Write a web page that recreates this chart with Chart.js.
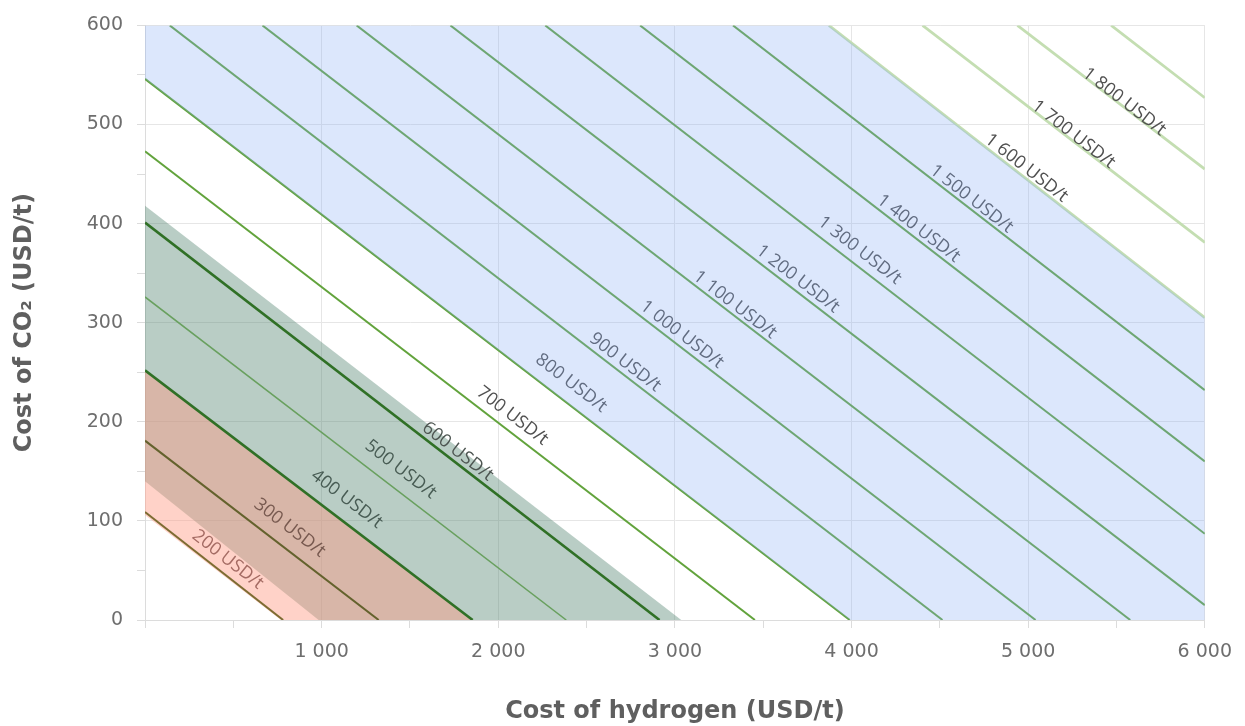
<!DOCTYPE html>
<html>
<head>
<meta charset="utf-8">
<script src="https://cdn.jsdelivr.net/npm/chart.js@4.4.1/dist/chart.umd.min.js"></script>
<style>
  html, body { margin: 0; padding: 0; background: #fff; }
  #wrap { width: 1245px; height: 726px; }
</style>
</head>
<body>
<div id="wrap"><canvas id="costChart"></canvas></div>
<script>
// product cost along each iso-line (USD/t); the last one carries no label
const costLevels = [200, 300, 400, 500, 600, 700, 800, 900, 1000, 1100, 1200, 1300, 1400, 1500, 1600, 1700, 1800, 1900];

// where each iso-line enters and leaves the plot, as [hydrogen, CO2]
const lineStart = [
  [0, 109], [0, 181], [0, 252], [0, 326], [0, 401], [0, 473], [0, 546],
  [140, 600], [665, 600], [1198, 600], [1729, 600], [2266, 600], [2803, 600],
  [3329, 600], [3872, 600], [4402, 600], [4939, 600], [5470, 600]
];
const lineEnd = [
  [782, 0], [1323, 0], [1855, 0], [2385, 0], [2913, 0], [3453, 0], [3990, 0],
  [4515, 0], [5042, 0], [5578, 0], [6000, 15], [6000, 87], [6000, 160],
  [6000, 232], [6000, 305], [6000, 381], [6000, 455], [6000, 527]
];

// shaded zones, corners as [hydrogen, CO2]
const pinkZone = [[0, 106], [0, 252], [1855, 0], [770, 0]];
const greenZone = [[0, 140], [0, 418], [3036, 0], [983, 0]];
const blueZone = [[0, 546], [0, 600], [3872, 600], [6000, 305], [6000, 0], [3990, 0]];

// ---- styling ----
const fmt = v => String(v).replace(/\B(?=(\d{3})+(?!\d))/g, ' ');
const toPts = arr => arr.map(p => ({x: p[0], y: p[1]}));

function lineColor(level) {
  if (level === 200) return 'rgb(125,108,50)';
  if (level === 300) return 'rgb(100,98,45)';
  if (level === 400 || level === 600) return 'rgb(48,112,38)';
  if (level === 500) return 'rgb(105,160,95)';
  if (level >= 1600) return 'rgb(196,222,178)';
  return 'rgb(98,163,60)';
}
function lineWidth(level) {
  if (level === 400 || level === 600) return 2.6;
  if (level === 500) return 1.5;
  if (level >= 1600) return 2.8;
  return 2;
}
function labelColor(level) {
  if (level === 200) return 'rgb(165,108,100)';
  if (level === 300) return 'rgb(120,90,80)';
  if (level === 400 || level === 500) return 'rgb(72,92,84)';
  if (level === 600) return 'rgb(78,86,82)';
  return 'rgb(80,80,80)';
}

// label centres along the lines, [hydrogen, CO2]
const labelSpots = [
  [469, 61], [819, 93], [1142, 122], [1447, 152], [1771, 170], [2080, 206],
  [2413, 239], [2718, 260], [3040, 288], [3340, 318], [3696, 344], [4046, 373],
  [4380, 395], [4679, 425], [4990, 456], [5256, 490], [5544, 523]
];

const zoneSets = [
  {label: 'blue', data: toPts(blueZone), fill: 'shape', backgroundColor: 'rgba(140,175,245,0.3)',
   borderWidth: 0, pointRadius: 0, order: 0},
  {label: 'pink', data: toPts(pinkZone), fill: 'shape', backgroundColor: 'rgba(255,155,133,0.45)',
   borderWidth: 0, pointRadius: 0, order: 20},
  {label: 'green', data: toPts(greenZone), fill: 'shape', backgroundColor: 'rgba(80,130,110,0.4)',
   borderWidth: 0, pointRadius: 0, order: 30}
];
const firstLine = zoneSets.length;
const lineSets = costLevels.map((lvl, i) => ({
  label: lvl + ' USD/t',
  data: toPts([lineStart[i], lineEnd[i]]),
  borderColor: lineColor(lvl),
  borderWidth: lineWidth(lvl),
  pointRadius: 0,
  fill: false,
  order: 10
}));

const isoLabels = {
  id: 'isoLabels',
  afterDatasetDraw(chart, args) {
    if (args.index !== firstLine) return;
    const {ctx, scales: {x, y}} = chart;
    ctx.save();
    ctx.font = '18px "Open Sans"';
    ctx.textAlign = 'center';
    ctx.textBaseline = 'middle';
    labelSpots.forEach((spot, i) => {
      const a = lineStart[i], b = lineEnd[i];
      const ang = Math.atan2(y.getPixelForValue(b[1]) - y.getPixelForValue(a[1]),
                             x.getPixelForValue(b[0]) - x.getPixelForValue(a[0]));
      ctx.save();
      ctx.translate(x.getPixelForValue(spot[0]), y.getPixelForValue(spot[1]));
      ctx.rotate(ang);
      ctx.fillStyle = labelColor(costLevels[i]);
      ctx.fillText(fmt(costLevels[i]) + ' USD/t', 0, 0);
      ctx.restore();
    });
    ctx.restore();
  }
};

const gridCol = '#e6e6e6';
const tickFont = {family: '"DejaVu Sans"', size: 19};
const titleFont = {family: '"DejaVu Sans"', size: 24, weight: 'bold'};

new Chart(document.getElementById('costChart'), {
  type: 'line',
  data: {datasets: [...zoneSets, ...lineSets]},
  options: {
    responsive: true,
    maintainAspectRatio: false,
    animation: false,
    layout: {padding: {top: 24, right: 35, left: 0, bottom: 0}},
    plugins: {legend: {display: false}, tooltip: {enabled: false}},
    scales: {
      x: {
        type: 'linear', min: 0, max: 6000,
        afterFit: s => { s.height = 106; },
        border: {color: '#dcdcdc'},
        grid: {
          color: c => (c.tick && c.tick.value % 1000 === 0) ? gridCol : 'rgba(0,0,0,0)',
          tickColor: '#dcdcdc', tickLength: 8
        },
        ticks: {
          stepSize: 500, autoSkip: false, maxRotation: 0, padding: 13,
          color: '#6e6e6e', font: tickFont,
          callback: v => (v % 1000 === 0 && v > 0) ? fmt(v) : ''
        },
        title: {display: true, text: 'Cost of hydrogen (USD/t)', color: '#5f5f5f',
                font: titleFont, padding: {top: 0, bottom: 0}}
      },
      y: {
        min: 0, max: 600,
        afterFit: s => { s.width = 145; },
        border: {color: '#dcdcdc'},
        grid: {
          color: c => (c.tick && c.tick.value % 100 === 0) ? gridCol : 'rgba(0,0,0,0)',
          tickColor: '#dcdcdc', tickLength: 8
        },
        ticks: {
          stepSize: 50, autoSkip: false, padding: 14,
          color: '#6e6e6e', font: tickFont,
          callback: v => (v % 100 === 0) ? String(v) : ''
        },
        title: {display: true, text: 'Cost of CO₂ (USD/t)', color: '#5f5f5f',
                font: titleFont, padding: {top: 10, bottom: 0}}
      }
    }
  },
  plugins: [isoLabels]
});
</script>
</body>
</html>
